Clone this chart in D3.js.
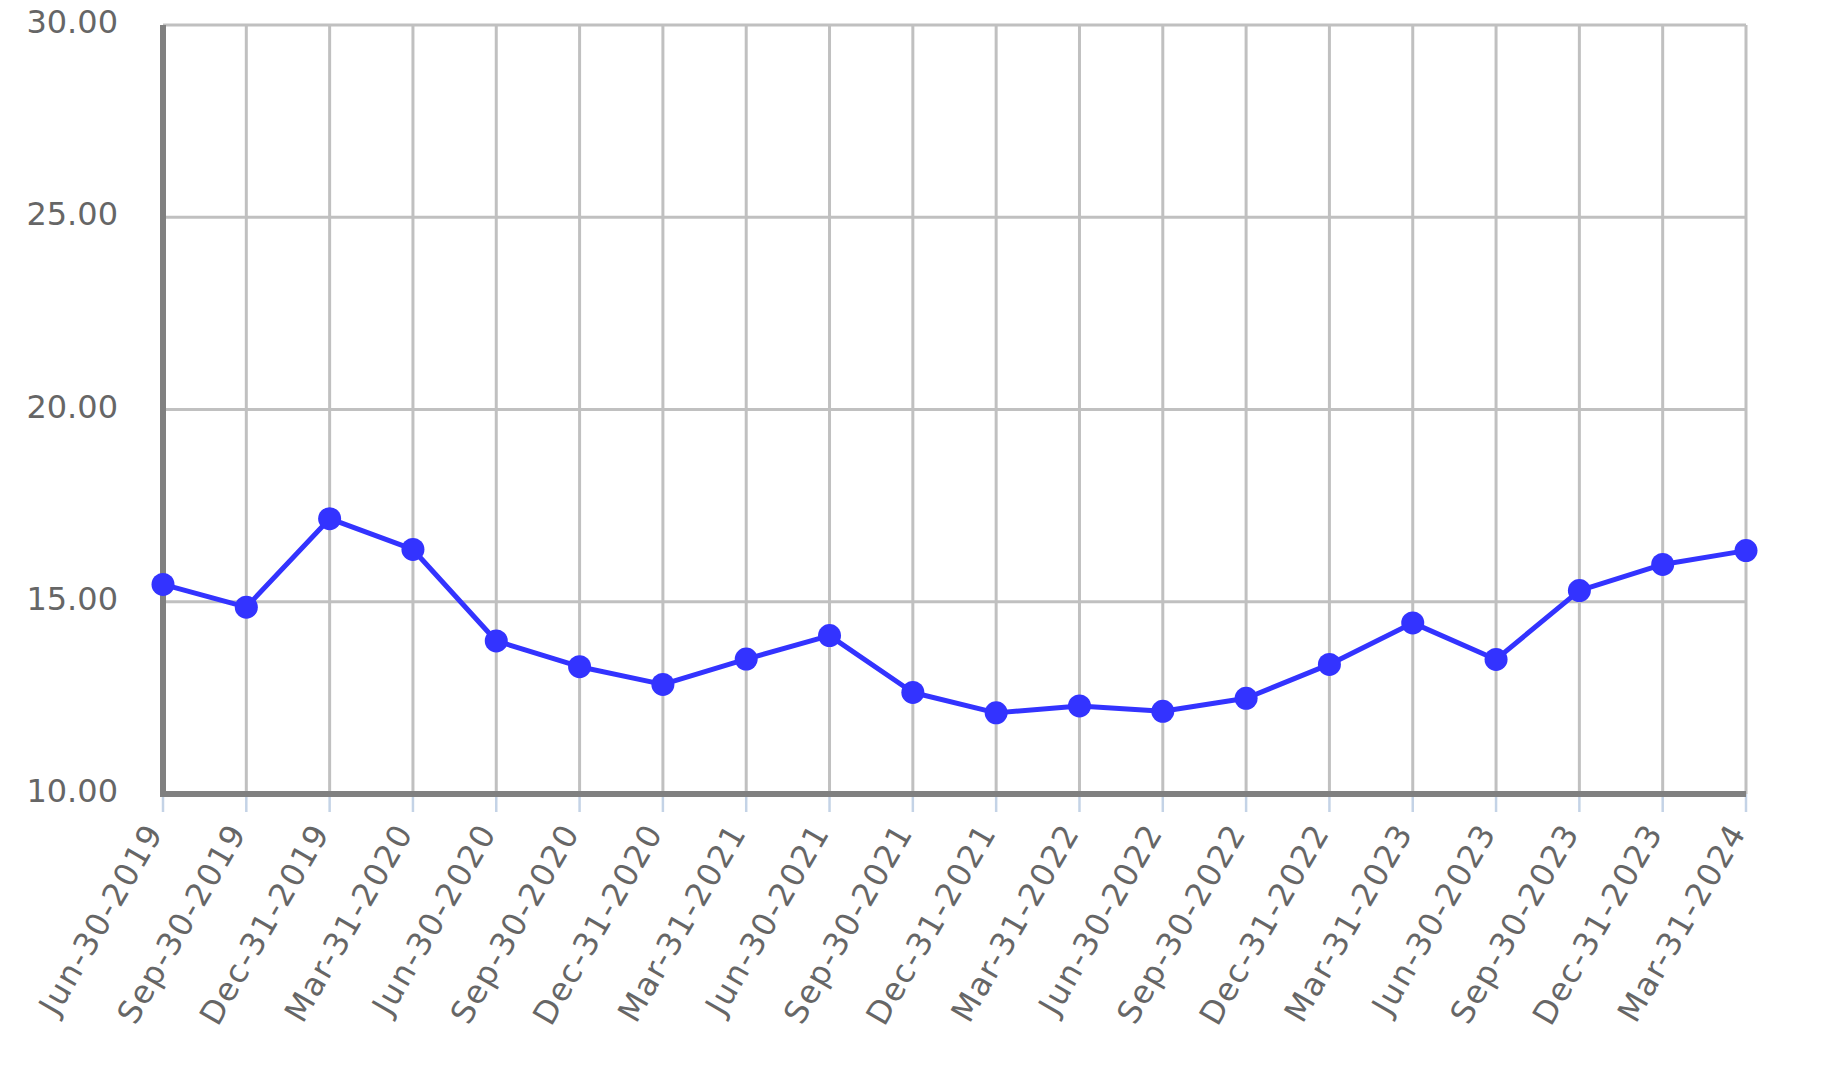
<!DOCTYPE html>
<html>
<head>
<meta charset="utf-8">
<script src="https://cdn.jsdelivr.net/npm/d3@7"></script>
<style>
  html, body { margin: 0; padding: 0; background: #ffffff; }
  svg { display: block; }
</style>
</head>
<body>
<svg id="chart" width="1824" height="1084"></svg>
<script>
const categories = [
  "Jun-30-2019", "Sep-30-2019", "Dec-31-2019", "Mar-31-2020",
  "Jun-30-2020", "Sep-30-2020", "Dec-31-2020", "Mar-31-2021",
  "Jun-30-2021", "Sep-30-2021", "Dec-31-2021", "Mar-31-2022",
  "Jun-30-2022", "Sep-30-2022", "Dec-31-2022", "Mar-31-2023",
  "Jun-30-2023", "Sep-30-2023", "Dec-31-2023", "Mar-31-2024"
];
const values = [
  15.45, 14.86, 17.16, 16.36,
  13.98, 13.31, 12.85, 13.51,
  14.12, 12.64, 12.11, 12.29,
  12.15, 12.49, 13.37, 14.45,
  13.50, 15.29, 15.97, 16.33
];
const yTicks = [10, 15, 20, 25, 30];

(function () {
const svg = d3.select("#chart");
const mLeft = 163, mRight = 1746, mTop = 25, mBottom = 794;

const x = d3.scalePoint().domain(categories).range([mLeft, mRight]);
const y = d3.scaleLinear().domain([10, 30]).range([mBottom, mTop]);

const font = "'DejaVu Sans', Verdana, sans-serif";

// horizontal gridlines
svg.append("g")
  .selectAll("line")
  .data(yTicks)
  .join("line")
  .attr("x1", mLeft).attr("x2", mRight)
  .attr("y1", d => y(d)).attr("y2", d => y(d))
  .attr("stroke", "#c0c0c0").attr("stroke-width", 3);

// vertical gridlines
svg.append("g")
  .selectAll("line")
  .data(categories)
  .join("line")
  .attr("x1", d => x(d)).attr("x2", d => x(d))
  .attr("y1", mTop).attr("y2", mBottom)
  .attr("stroke", "#c0c0c0").attr("stroke-width", 3);

// x ticks (light blue)
svg.append("g")
  .selectAll("line")
  .data(categories)
  .join("line")
  .attr("x1", d => x(d)).attr("x2", d => x(d))
  .attr("y1", mBottom).attr("y2", mBottom + 18)
  .attr("stroke", "#c4d3e6").attr("stroke-width", 2.5);

// axes lines
svg.append("line")
  .attr("x1", mLeft).attr("x2", mLeft)
  .attr("y1", mTop).attr("y2", mBottom + 3)
  .attr("stroke", "#808080").attr("stroke-width", 6);
svg.append("line")
  .attr("x1", mLeft - 3).attr("x2", mRight)
  .attr("y1", mBottom).attr("y2", mBottom)
  .attr("stroke", "#808080").attr("stroke-width", 6);

// y labels
svg.append("g")
  .selectAll("text")
  .data(yTicks)
  .join("text")
  .attr("x", 118)
  .attr("y", d => y(d) + 8)
  .attr("text-anchor", "end")
  .attr("font-family", font)
  .attr("font-size", 32)
  .attr("fill", "#666666")
  .text(d => d3.format(".2f")(d));

// x labels
svg.append("g")
  .selectAll("text")
  .data(categories)
  .join("text")
  .attr("transform", d => `translate(${x(d) + 1},${mBottom + 38}) rotate(-60)`)
  .attr("text-anchor", "end")
  .attr("font-family", font)
  .attr("font-size", 32)
  .attr("letter-spacing", 1.7)
  .attr("fill", "#666666")
  .text(d => d);

// line
const line = d3.line()
  .x((d, i) => x(categories[i]))
  .y(d => y(d));
svg.append("path")
  .datum(values)
  .attr("d", line)
  .attr("fill", "none")
  .attr("stroke", "#3333ff")
  .attr("stroke-width", 5)
  .attr("stroke-linejoin", "round");

// points
svg.append("g")
  .selectAll("circle")
  .data(values)
  .join("circle")
  .attr("cx", (d, i) => x(categories[i]))
  .attr("cy", d => y(d))
  .attr("r", 11.5)
  .attr("fill", "#3333ff");
})();
</script>
</body>
</html>
